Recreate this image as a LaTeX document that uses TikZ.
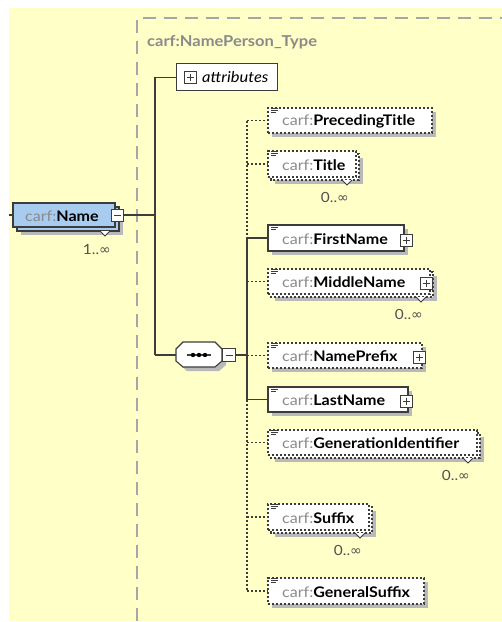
\documentclass[tikz,border=0pt]{standalone}
\usepackage{fontspec}
\setmainfont{Lato}[FakeStretch=1.1]
\newfontfamily\symfont{DejaVu Sans}
\usetikzlibrary{calc}
\definecolor{bg}{HTML}{FFFFC8}
\definecolor{carfgrey}{HTML}{8A8A8A}
\definecolor{edge}{HTML}{3C3C3C}
\definecolor{shd}{HTML}{B9B9B9}
\definecolor{nameblue}{HTML}{A8CBF0}
\definecolor{grpgrey}{HTML}{A6A6A6}
\definecolor{cardc}{HTML}{505050}
\tikzset{
 reqbox/.style={draw=edge, line width=1.1pt, fill=white, inner sep=0pt, outer sep=0pt},
 optbox/.style={draw=edge, line width=1.1pt, dash pattern=on 2.4pt off 1.6pt, fill=white, inner sep=0pt, outer sep=0pt},
 bluebox/.style={draw=edge, line width=1.1pt, fill=nameblue, inner sep=0pt, outer sep=0pt},
 lbl/.style={inner sep=0pt, font=\fontsize{14.6}{17}\selectfont},
 cardlbl/.style={inner sep=0pt, text=cardc, font=\fontsize{14}{15}\selectfont},
 connreq/.style={draw=edge, line width=1.1pt},
 connopt/.style={draw=edge, line width=1.1pt, dash pattern=on 2.4pt off 1.6pt},
 grpline/.style={draw=grpgrey, line width=1.4pt, dash pattern=on 13pt off 8pt},
 iconline/.style={draw=edge, line width=0.9pt},
}
\newcommand\xdoc[2]{%
  \draw[iconline] (#1+3,#2) -- (#1+10,#2);
  \draw[iconline] (#1+3,#2+2.4) -- (#1+10,#2+2.4);
  \draw[iconline] (#1+3,#2+4.8) -- (#1+8,#2+4.8);
}
\newcommand\xplus[2]{%
  \draw[iconline, fill=white] (#1-6,#2-6) rectangle (#1+6,#2+6);
  \draw[iconline] (#1-3.5,#2) -- (#1+3.5,#2) (#1,#2-3.5) -- (#1,#2+3.5);
}
\newcommand\xchev[2]{%
  \draw[edge, line width=1pt, fill=white] (#1-5,#2) -- (#1,#2+5) -- (#1+5,#2);
}
\newcommand\xsingle[7]{%
  \fill[shd] (#2+4,#3+4) rectangle (#4+4,#5+4);
  \node[#6, anchor=north west, minimum width={#4pt-#2pt}, minimum height={#5pt-#3pt}] (#1) at (#2,#3) {};
  \node[lbl, anchor=west] (#1-t) at ($(#1.west)+(14,1)$) {\textcolor{carfgrey}{carf:}\textbf{#7}};
  \xdoc{#2}{#3}
}
\newcommand\xmulti[8]{%
  \fill[shd] (#2+7,#3+7) rectangle (#4+7,#5+7);
  \draw[#6] (#2+3,#3+3) rectangle (#4+3,#5+3);
  \node[#6, anchor=north west, minimum width={#4pt-#2pt}, minimum height={#5pt-#3pt}] (#1) at (#2,#3) {};
  \node[lbl, anchor=west] (#1-t) at ($(#1.west)+(14,1)$) {\textcolor{carfgrey}{carf:}\textbf{#7}};
  \xdoc{#2}{#3}
  \xchev{#4-9}{#5+3}
  \node[cardlbl, anchor=base east] (#1-c) at (#4-7,#5+25) {#8};
}
\begin{document}
\begin{tikzpicture}[x=1pt,y=-1pt]
\useasboundingbox (0,0) rectangle (502,622);
\fill[white] (0,0) rectangle (502,622);
\fill[bg] (9,8) rectangle (502,621);
% group
\draw[grpline] (137,621) -- (137,18) -- (502,18);
\node[anchor=base west, inner sep=0pt, text=carfgrey, font=\bfseries\fontsize{15}{17}\selectfont] (grp) at (147,46) {carf:NamePerson\_Type};
% Name element
\fill[shd] (21,211) rectangle (123,235);
\draw[bluebox] (17,207) rectangle (119,231);
\node[bluebox, anchor=north west, minimum width=102pt, minimum height=24pt] (name) at (13,203) {};
\node[lbl, anchor=west] (name-t) at ($(name.west)+(12,1)$) {\textcolor{carfgrey}{carf:}\textbf{Name}};
\xchev{105}{231}
\node[cardlbl, anchor=base east] (name-c) at (111,254) {1..{\symfont ∞}};
\node[draw=edge, line width=0.9pt, fill=white, minimum size=12pt, inner sep=0pt] (namem) at (117,215) {};
\draw[iconline] ($(namem.center)+(-3.5,0)$) -- ($(namem.center)+(3.5,0)$);
% attributes
\node[draw=edge, line width=1.1pt, fill=white, inner sep=0pt, anchor=north west, minimum width=101pt, minimum height=27pt] (attr) at (176,63) {};
\xplus{190}{77}
\node[inner sep=0pt, anchor=west, font=\itshape\fontsize{15}{17}\selectfont] (attr-t) at (202,77) {attributes};
% sequence
\fill[shd] (187,346) -- (219,346) -- (226,353) -- (226,365) -- (219,371) -- (187,371) -- (180,365) -- (180,353) -- cycle;
\node[inner sep=0pt, anchor=west, minimum width=46pt, minimum height=25pt] (seq) at (176,355) {};
\draw[edge, line width=1.1pt, fill=white] (183,342) -- (215,342) -- (222,349) -- (222,361) -- (215,367) -- (183,367) -- (176,361) -- (176,349) -- cycle;
\draw[edge, line width=1.2pt] (187,355) -- (211,355);
\foreach \dx in {193,199,205} \fill[black] (\dx,355) circle (2.2pt);
\node[draw=edge, line width=0.9pt, fill=white, minimum size=13pt, inner sep=0pt] (seqm) at (229,355) {};
\draw[iconline] ($(seqm.center)+(-3.5,0)$) -- ($(seqm.center)+(3.5,0)$);
% children
\xsingle{pt}{268}{108}{432}{133}{optbox}{PrecedingTitle}
\xmulti{ti}{268}{151}{356}{177}{optbox}{Title}{0..{\symfont ∞}}
\xsingle{fn}{268}{225}{404}{251}{reqbox}{FirstName}
\xplus{406}{240}
\xmulti{mn}{268}{269}{430}{294}{optbox}{MiddleName}{0..{\symfont ∞}}
\xplus{426}{283}
\xsingle{np}{268}{343}{422}{368}{optbox}{NamePrefix}
\xplus{419}{357}
\xsingle{ln}{268}{387}{408}{412}{reqbox}{LastName}
\xplus{406}{401}
\xmulti{gi}{268}{430}{477}{455}{optbox}{GenerationIdentifier}{0..{\symfont ∞}}
\xmulti{su}{268}{504}{369}{530}{optbox}{Suffix}{0..{\symfont ∞}}
\xsingle{gs}{268}{578}{424}{604}{optbox}{GeneralSuffix}
% connectors
\coordinate (trunk) at (155,215);
\coordinate (bus) at (247,355);
\coordinate (inl) at (9,215);
\draw[connreq] (inl) -- (name.west);
\draw[connreq] (namem.east) -- (trunk);
\draw[connreq] (trunk |- attr.west) -- (trunk |- seq.west);
\draw[connreq] (trunk |- attr.west) -- (attr.west);
\draw[connreq] (trunk |- seq.west) -- (seq.west);
\draw[connreq] (seqm.east) -- (bus);
\draw[connopt] (bus |- pt.west) -- (bus |- fn.west);
\draw[connreq] (bus |- fn.west) -- (bus |- ln.west);
\draw[connopt] (bus |- ln.west) -- (bus |- gs.west);
\draw[connopt] (bus |- pt.west) -- (pt.west);
\draw[connopt] (bus |- ti.west) -- (ti.west);
\draw[connreq] (bus |- fn.west) -- (fn.west);
\draw[connopt] (bus |- mn.west) -- (mn.west);
\draw[connopt] (bus |- np.west) -- (np.west);
\draw[connreq] (bus |- ln.west) -- (ln.west);
\draw[connopt] (bus |- gi.west) -- (gi.west);
\draw[connopt] (bus |- su.west) -- (su.west);
\draw[connopt] (bus |- gs.west) -- (gs.west);
\end{tikzpicture}
\end{document}
